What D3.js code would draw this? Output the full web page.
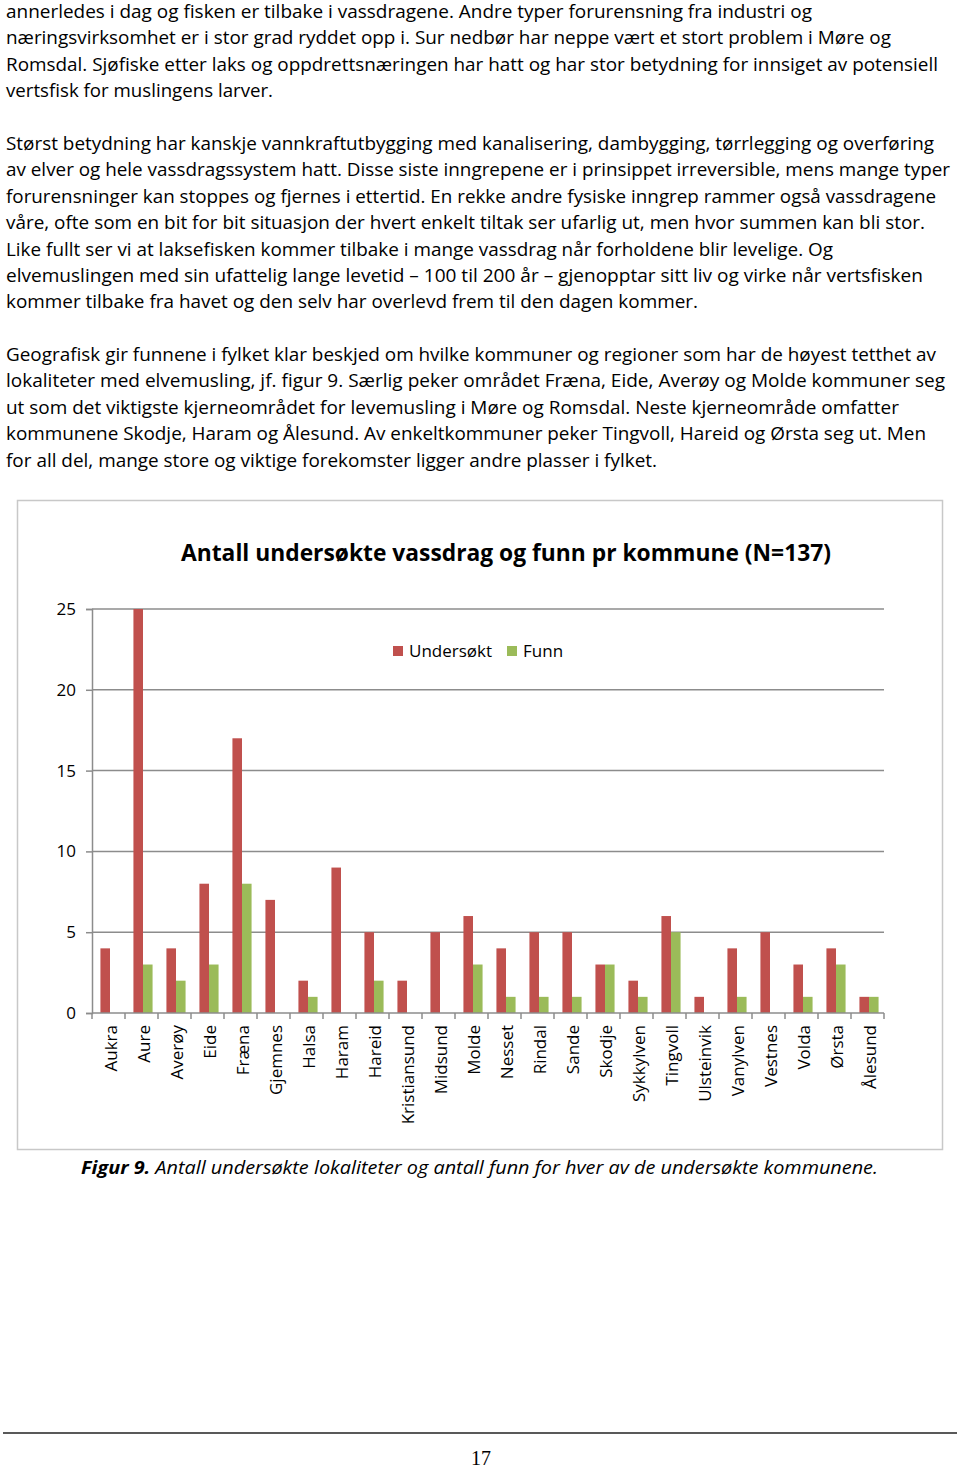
<!DOCTYPE html>
<html><head><meta charset="utf-8">
<script src="https://cdn.jsdelivr.net/npm/d3@7"></script>
<style>
html,body{margin:0;padding:0;background:#fff;}
svg{display:block;}
</style></head>
<body>
<svg id="page" width="960" height="1470"></svg>
<script>
// ---- data ----
const kommuner = ["Aukra","Aure","Averøy","Eide","Fræna","Gjemnes","Halsa","Haram","Hareid","Kristiansund","Midsund","Molde","Nesset","Rindal","Sande","Skodje","Sykkylven","Tingvoll","Ulsteinvik","Vanylven","Vestnes","Volda","Ørsta","Ålesund"];
const undersokt = [4,25,4,8,17,7,2,9,5,2,5,6,4,5,5,3,2,6,1,4,5,3,4,1];
const funn      = [0,3,2,3,8,0,1,0,2,0,0,3,1,1,1,3,1,5,0,1,0,1,3,1];
const seriesNames = ["Undersøkt","Funn"];
const yTicks = [0,5,10,15,20,25];
const chartTitle = "Antall undersøkte vassdrag og funn pr kommune (N=137)";

const para1 = [
 ["annerledes i dag og fisken er tilbake i vassdragene.  Andre typer forurensning fra industri og",812],
 ["næringsvirksomhet er i stor grad ryddet opp i. Sur nedbør har neppe vært et stort problem i Møre og",891],
 ["Romsdal. Sjøfiske etter laks og oppdrettsnæringen har hatt og har stor betydning for innsiget av potensiell",938],
 ["vertsfisk for muslingens larver.",273]
];
const para2 = [
 ["Størst betydning har kanskje vannkraftutbygging med kanalisering, dambygging, tørrlegging og overføring",934],
 ["av elver og hele vassdragssystem hatt. Disse siste inngrepene er i prinsippet irreversible, mens mange typer",950],
 ["forurensninger kan stoppes og fjernes i ettertid. En rekke andre fysiske inngrep rammer også vassdragene",936],
 ["våre, ofte som en bit for bit situasjon der hvert enkelt tiltak ser ufarlig ut, men hvor summen kan bli stor.",925],
 ["Like fullt ser vi at laksefisken kommer tilbake i mange vassdrag når forholdene blir levelige. Og",833],
 ["elvemuslingen med sin ufattelig lange levetid – 100 til 200 år – gjenopptar sitt liv og virke når vertsfisken",923],
 ["kommer tilbake fra havet og den selv har overlevd frem til den dagen kommer.",698]
];
const para3 = [
 ["Geografisk gir funnene i fylket klar beskjed om hvilke kommuner og regioner som har de høyest tetthet av",936],
 ["lokaliteter med elvemusling, jf. figur 9. Særlig peker området Fræna, Eide, Averøy og Molde kommuner seg",945],
 ["ut som det viktigste kjerneområdet for levemusling i Møre og Romsdal. Neste kjerneområde omfatter",899],
 ["kommunene Skodje, Haram og Ålesund. Av enkeltkommuner peker Tingvoll, Hareid og Ørsta seg ut. Men",926],
 ["for all del, mange store og viktige forekomster ligger andre plasser i fylket.",657]
];
const captionBold = "Figur 9.";
const captionRest = " Antall undersøkte lokaliteter og antall funn for hver av de undersøkte kommunene.";
const pageNumber = "17";

// ---- drawing ----
const svg = d3.select("#page");
const bodyFont = "'Open Sans', sans-serif";

function drawPara(lines, y0){
  lines.forEach((l,i)=>{
    svg.append("text")
      .attr("x",6).attr("y",y0+i*26.4)
      .attr("font-family",bodyFont).attr("font-size",18).attr("fill","#000")
      .attr("textLength",l[1]-6).attr("lengthAdjust","spacingAndGlyphs")
      .text(l[0]);
  });
}
drawPara(para1,18);
drawPara(para2,150);
drawPara(para3,361);

// chart frame
svg.append("rect").attr("x",17.5).attr("y",500.5).attr("width",925).attr("height",649)
  .attr("fill","#fff").attr("stroke","#c8c8c8").attr("stroke-width",1.5);

const m = {left:92, right:884, top:609, bottom:1013};
const x0 = d3.scaleBand().domain(kommuner).range([m.left,m.right]).paddingInner(0.42).paddingOuter(0.21);
const x1 = d3.scaleBand().domain(seriesNames).range([0,x0.bandwidth()]);
const y = d3.scaleLinear().domain([0,25]).range([m.bottom,m.top]);
const colors = {"Undersøkt":"#C0504D","Funn":"#9BBB59"};
const barShift = 1.5;

// gridlines
svg.append("g").selectAll("line").data(yTicks.filter(t=>t>0)).join("line")
  .attr("x1",m.left).attr("x2",m.right)
  .attr("y1",d=>y(d)).attr("y2",d=>y(d))
  .attr("stroke","#8c8c8c").attr("stroke-width",1.5);

// y axis
const yAxis = svg.append("g").attr("transform",`translate(${m.left},0)`)
  .call(d3.axisLeft(y).tickValues(yTicks).tickSize(6).tickPadding(10));
yAxis.select(".domain").attr("stroke","#8c8c8c").attr("stroke-width",1.5);
yAxis.selectAll(".tick line").attr("stroke","#8c8c8c").attr("stroke-width",1.5);
yAxis.selectAll("text").attr("font-family",bodyFont).attr("font-size",17).attr("fill","#000");

// bars
const data = kommuner.map((k,i)=>({k, vals:[{s:"Undersøkt",v:undersokt[i]},{s:"Funn",v:funn[i]}]}));
const grp = svg.append("g").selectAll("g").data(data).join("g")
  .attr("transform",d=>`translate(${x0(d.k)+barShift},0)`);
grp.selectAll("rect").data(d=>d.vals).join("rect")
  .attr("x",d=>x1(d.s)).attr("width",x1.bandwidth())
  .attr("y",d=>y(d.v)).attr("height",d=>y(0)-y(d.v))
  .attr("fill",d=>colors[d.s]);

// x axis
const step = x0.step();
const xAxisG = svg.append("g");
xAxisG.append("line").attr("x1",m.left).attr("x2",m.right).attr("y1",m.bottom).attr("y2",m.bottom)
  .attr("stroke","#8c8c8c").attr("stroke-width",1.5);
const bounds = d3.range(kommuner.length+1).map(i=>m.left+i*step);
xAxisG.selectAll("line.tk").data(bounds).join("line").attr("class","tk")
  .attr("x1",d=>d).attr("x2",d=>d).attr("y1",m.bottom).attr("y2",m.bottom+6)
  .attr("stroke","#8c8c8c").attr("stroke-width",1.5);
xAxisG.selectAll("text").data(kommuner).join("text")
  .attr("transform",d=>`translate(${x0(d)+x0.bandwidth()/2+8},${m.bottom+12}) rotate(-90)`)
  .attr("text-anchor","end")
  .attr("font-family",bodyFont).attr("font-size",17).attr("fill","#000")
  .text(d=>d);

// title
svg.append("text").attr("x",506).attr("y",561).attr("text-anchor","middle")
  .attr("font-family",bodyFont).attr("font-size",23).attr("font-weight","bold").attr("fill","#000")
  .attr("textLength",650).attr("lengthAdjust","spacingAndGlyphs")
  .text(chartTitle);

// legend
const legX = [393,507];
seriesNames.forEach((s,i)=>{
  svg.append("rect").attr("x",legX[i]).attr("y",646).attr("width",10).attr("height",10).attr("fill",colors[s]);
  svg.append("text").attr("x",legX[i]+16).attr("y",657)
    .attr("font-family",bodyFont).attr("font-size",17).attr("fill","#000").text(s);
});

// caption
const cap = svg.append("text").attr("x",81).attr("y",1174)
  .attr("font-family",bodyFont).attr("font-size",18).attr("font-style","italic").attr("fill","#000")
  .attr("textLength",797).attr("lengthAdjust","spacingAndGlyphs");
cap.append("tspan").attr("font-weight","bold").text(captionBold);
cap.append("tspan").text(captionRest);

// footer
svg.append("line").attr("x1",3).attr("x2",957).attr("y1",1433).attr("y2",1433)
  .attr("stroke","#222").attr("stroke-width",1.5);
svg.append("text").attr("x",481).attr("y",1465).attr("text-anchor","middle")
  .attr("font-family","'Liberation Serif', serif").attr("font-size",20).attr("fill","#000").text(pageNumber);
</script>
</body></html>
